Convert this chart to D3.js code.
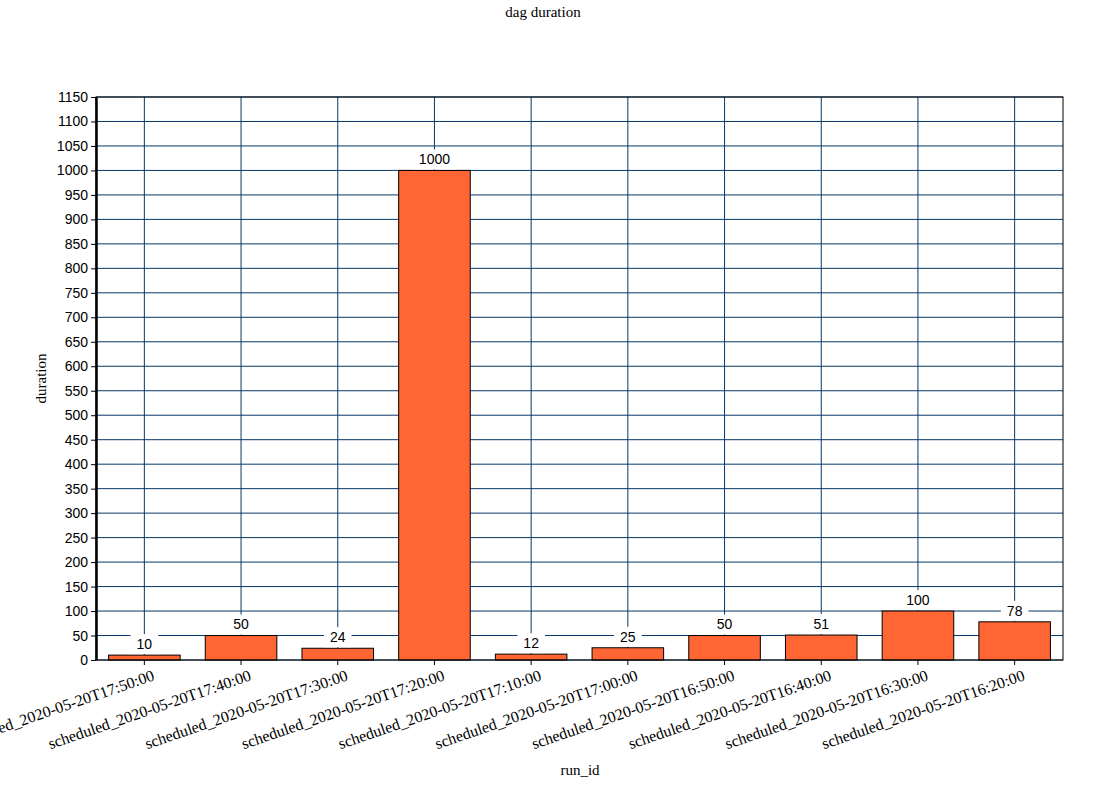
<!doctype html>
<html lang="en">
<head>
    <meta charset="UTF-8">
    <title>dag duration</title>
    <style>
      body { margin: 0; background: #fff; }
    </style>
</head>
<body>
<div class="container"></div>

<script src="https://d3js.org/d3.v7.min.js"></script>
<script>
  const runIds = [
    'scheduled_2020-05-20T17:50:00',
    'scheduled_2020-05-20T17:40:00',
    'scheduled_2020-05-20T17:30:00',
    'scheduled_2020-05-20T17:20:00',
    'scheduled_2020-05-20T17:10:00',
    'scheduled_2020-05-20T17:00:00',
    'scheduled_2020-05-20T16:50:00',
    'scheduled_2020-05-20T16:40:00',
    'scheduled_2020-05-20T16:30:00',
    'scheduled_2020-05-20T16:20:00'
  ];
  const durations = [10, 50, 24, 1000, 12, 25, 50, 51, 100, 78];
  const yTicks = d3.range(0, 1151, 50);

  const SVG_WIDTH = 1095;
  const SVG_HEIGHT = 805;
  const MARGIN = { top: 97, right: 32, bottom: 145, left: 96 };
  const GRAPH_WIDTH = SVG_WIDTH - MARGIN.left - MARGIN.right;
  const GRAPH_HEIGHT = SVG_HEIGHT - MARGIN.top - MARGIN.bottom;
  const GRID = '#073868';
  const SANS = 'Liberation Sans, Arial, sans-serif';
  const SERIF = 'Liberation Serif, Times New Roman, serif';

  const data = runIds.map((name, i) => ({ name, val: durations[i] }));

  const svg = d3.select('.container')
    .append('svg')
    .attr('width', SVG_WIDTH)
    .attr('height', SVG_HEIGHT)

  const graph = svg.append('g')
    .attr('transform', `translate(${MARGIN.left}, ${MARGIN.top})`)

  const x = d3.scaleBand()
    .domain(runIds)
    .range([0, GRAPH_WIDTH])
    .paddingInner(0.26)
    .paddingOuter(0.13)
    .align(0.5)

  const y = d3.scaleLinear()
    .domain([0, 1150])
    .range([GRAPH_HEIGHT, 0]);

  // grid
  graph.append('g')
    .selectAll('line')
    .data(yTicks)
    .join('line')
    .attr('x1', 0).attr('x2', GRAPH_WIDTH)
    .attr('y1', d => y(d)).attr('y2', d => y(d))
    .attr('stroke', GRID).attr('stroke-width', 1)

  graph.append('g')
    .selectAll('line')
    .data(runIds)
    .join('line')
    .attr('x1', d => x(d) + x.bandwidth() / 2).attr('x2', d => x(d) + x.bandwidth() / 2)
    .attr('y1', 0).attr('y2', GRAPH_HEIGHT)
    .attr('stroke', GRID).attr('stroke-width', 1)

  // bars
  graph.selectAll('rect.bar')
    .data(data)
    .join('rect')
    .attr('class', 'bar')
    .attr('x', d => x(d.name))
    .attr('y', d => y(d.val))
    .attr('width', x.bandwidth())
    .attr('height', d => GRAPH_HEIGHT - y(d.val))
    .attr('fill', '#ff6633')
    .attr('stroke', '#000')
    .attr('stroke-width', 1)

  // value labels with white box
  const labels = graph.selectAll('g.lbl')
    .data(data)
    .join('g')
    .attr('class', 'lbl')
    .attr('transform', d => `translate(${x(d.name) + x.bandwidth() / 2}, ${y(d.val) - 11})`)

  labels.append('rect')
    .attr('x', d => -(String(d.val).length * 3.9 + 6))
    .attr('width', d => String(d.val).length * 7.8 + 12)
    .attr('y', -10)
    .attr('height', 20)
    .attr('fill', '#fff')

  labels.append('text')
    .attr('text-anchor', 'middle')
    .attr('dy', '0.35em')
    .style('font-family', SANS)
    .style('font-size', '14px')
    .attr('fill', '#000')
    .text(d => d.val)

  // frame
  graph.append('rect')
    .attr('width', GRAPH_WIDTH)
    .attr('height', GRAPH_HEIGHT)
    .attr('fill', 'none')
    .attr('stroke', '#000')
    .attr('stroke-width', 1)

  // axes
  const yAxis = d3.axisLeft(y).tickValues(yTicks).tickFormat(d3.format('d')).tickSize(5).tickSizeOuter(0);
  const yAxisGroup = graph.append('g').call(yAxis);
  yAxisGroup.select('.domain').attr('stroke-width', 2.5);
  yAxisGroup.selectAll('text')
    .style('font-family', SANS)
    .style('font-size', '14px')
    .attr('fill', '#000')

  const xAxis = d3.axisBottom(x).tickSize(5).tickSizeOuter(0);
  const xAxisGroup = graph.append('g')
    .attr('transform', `translate(0, ${GRAPH_HEIGHT})`)
    .call(xAxis);
  xAxisGroup.select('.domain').remove();
  xAxisGroup.selectAll('text')
    .attr('text-anchor', 'end')
    .attr('dx', '4')
    .attr('dy', '0.9em')
    .attr('transform', 'rotate(-19)')
    .style('font-family', SERIF)
    .style('font-size', '16px')
    .attr('fill', '#000')

  // titles
  svg.append('text')
    .attr('x', 543).attr('y', 17)
    .attr('text-anchor', 'middle')
    .style('font-family', SERIF)
    .style('font-size', '15px')
    .text('dag duration')

  svg.append('text')
    .attr('transform', `translate(46, ${MARGIN.top + GRAPH_HEIGHT / 2}) rotate(-90)`)
    .attr('text-anchor', 'middle')
    .style('font-family', SERIF)
    .style('font-size', '15px')
    .text('duration')

  svg.append('text')
    .attr('x', 580).attr('y', 775)
    .attr('text-anchor', 'middle')
    .style('font-family', SERIF)
    .style('font-size', '15px')
    .text('run_id')
</script>
</body>
</html>
